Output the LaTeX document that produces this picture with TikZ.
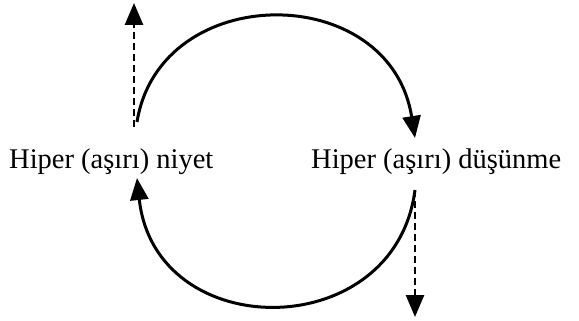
\documentclass[tikz,border=0pt]{standalone}
\usepackage{fontspec}
\setmainfont{Liberation Serif}
\usetikzlibrary{arrows.meta}
\begin{document}
\begin{tikzpicture}[x=1pt,y=-1pt,
  lbl/.style={inner sep=0pt,anchor=base west,font=\fontsize{28.5}{30}\selectfont},
  arc/.style={line width=3pt,-{Triangle[length=22pt,width=18pt]}},
  dsh/.style={line width=2.8pt,dash pattern=on 7pt off 4pt,-{Triangle[length=22pt,width=18pt]}}]
\useasboundingbox (0,0) rectangle (579,321);
\node[lbl] (L) at (9,168) {Hiper (aşırı) niyet};
\node[lbl] (R) at (311,168) {Hiper (aşırı) düşünme};
\coordinate (ls) at (137,122);
\coordinate (lt) at (134,3);
\coordinate (ld) at (134,127);
\coordinate (re) at (415,138);
\coordinate (rs) at (415,190);
\coordinate (rt) at (415,317);
\coordinate (le) at (137,178);
\draw[arc] (ls) .. controls (160,-20) and (390,-20) .. (re);
\draw[arc] (rs) .. controls (395,345) and (155,345) .. (le);
\draw[dsh] (ld) -- (lt);
\draw[dsh] (rs) -- (rt);
\end{tikzpicture}
\end{document}
